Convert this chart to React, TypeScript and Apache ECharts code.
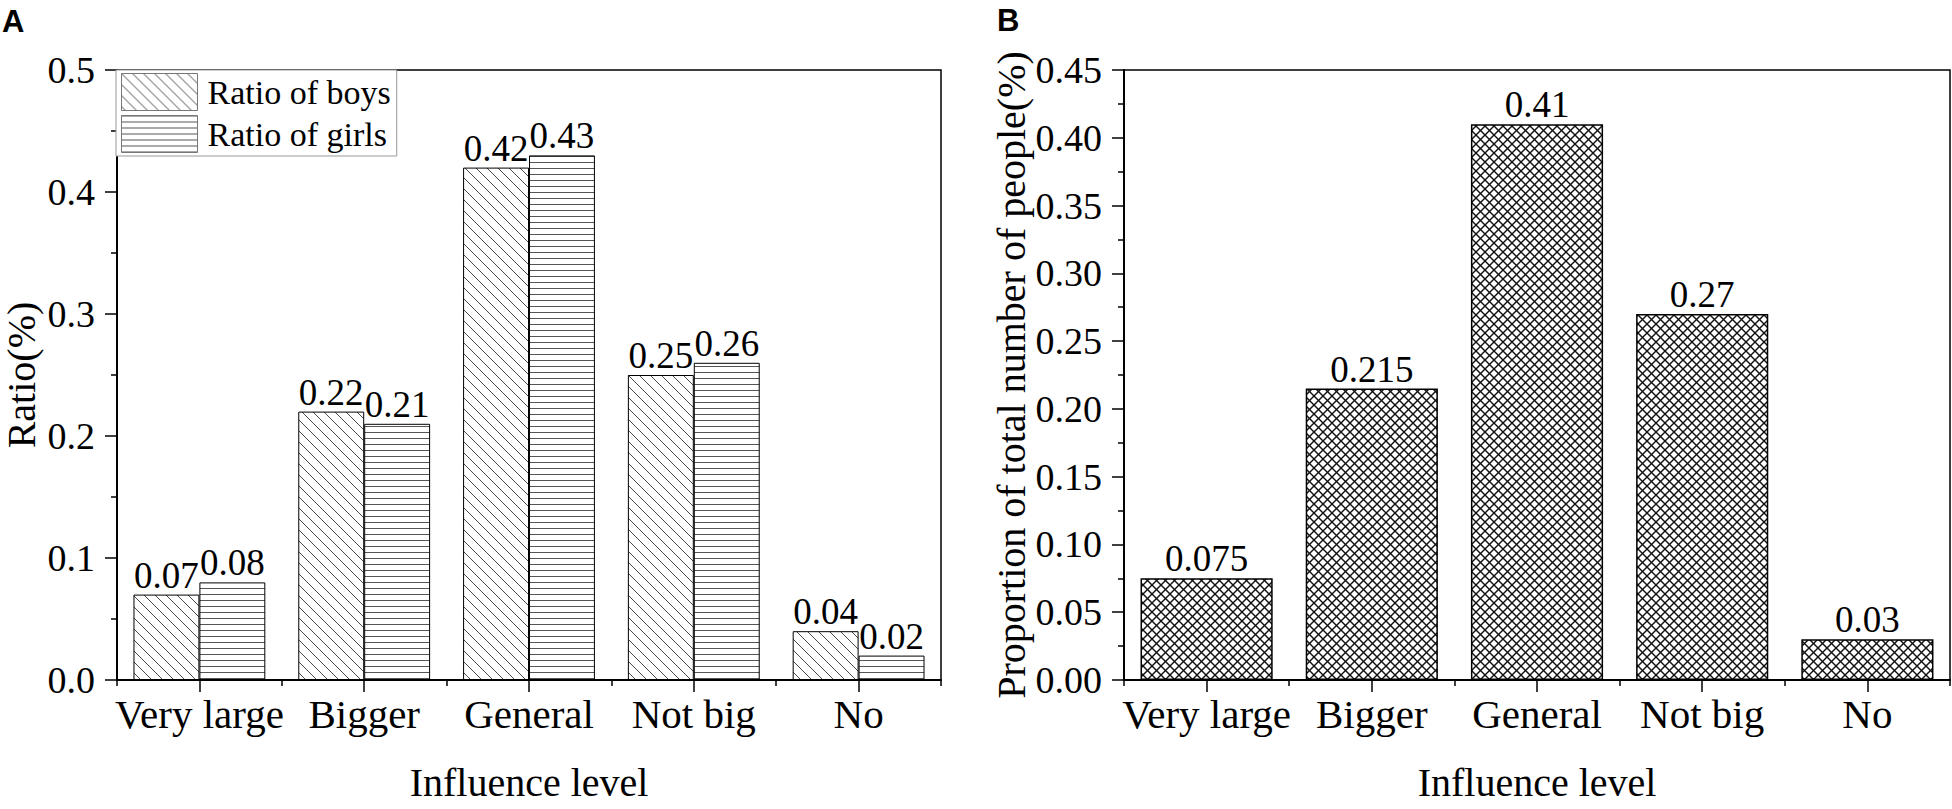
import React, { useEffect, useRef } from "react";
import * as echarts from "echarts";

const categories = ["Very large", "Bigger", "General", "Not big", "No"];
const boys = [0.07, 0.22, 0.42, 0.25, 0.04];
const girls = [0.08, 0.21, 0.43, 0.26, 0.02];
const total = [0.075, 0.215, 0.41, 0.27, 0.03];
const seriesNames = ["Ratio of boys", "Ratio of girls"];

const FONT = "'Liberation Serif', 'Times New Roman', serif";

function makePattern(kind: string): HTMLCanvasElement {
  const c = document.createElement("canvas");
  let s = 11;
  if (kind === "horiz") s = 6;
  if (kind === "cross") s = 9;
  c.width = s;
  c.height = s;
  const ctx = c.getContext("2d")!;
  ctx.fillStyle = "#ffffff";
  ctx.fillRect(0, 0, s, s);
  if (kind === "diag") {
    ctx.strokeStyle = "#4a4a4a";
    ctx.lineWidth = 1;
    for (const k of [-1, 0, 1]) {
      ctx.beginPath();
      ctx.moveTo(-2, -2 + k * s);
      ctx.lineTo(s + 2, s + 2 + k * s);
      ctx.stroke();
    }
  } else if (kind === "horiz") {
    ctx.strokeStyle = "#555555";
    ctx.lineWidth = 1;
    ctx.beginPath();
    ctx.moveTo(0, 0.5);
    ctx.lineTo(s, 0.5);
    ctx.stroke();
  } else {
    ctx.strokeStyle = "#111111";
    ctx.lineWidth = 1.4;
    for (const k of [-1, 0, 1]) {
      ctx.beginPath();
      ctx.moveTo(-2, -2 + k * s);
      ctx.lineTo(s + 2, s + 2 + k * s);
      ctx.stroke();
      ctx.beginPath();
      ctx.moveTo(-2, s + 2 + k * s);
      ctx.lineTo(s + 2, -2 + k * s);
      ctx.stroke();
    }
  }
  return c;
}

export default function App() {
  const ref = useRef<HTMLDivElement>(null);

  useEffect(() => {
    document.body.style.margin = "0";
    if (!ref.current) return;
    const chart = echarts.init(ref.current, undefined, { renderer: "svg" });

    const diag = { image: makePattern("diag"), repeat: "repeat" };
    const horiz = { image: makePattern("horiz"), repeat: "repeat" };
    const cross = { image: makePattern("cross"), repeat: "repeat" };

    const grids = [
      { left: 116, top: 70, width: 825, height: 610 },
      { left: 1124, top: 70, width: 826, height: 610 },
    ];

    const catAxis = (gridIndex: number, main: boolean) => ({
      type: "category",
      gridIndex,
      position: "bottom",
      data: categories,
      name: main ? "Influence level" : "",
      nameLocation: "middle",
      nameGap: 82,
      nameTextStyle: { fontFamily: FONT, fontSize: 40, color: "#000" },
      axisLine: { show: main, lineStyle: { color: "#000", width: 2 } },
      axisTick: main
        ? { show: true, alignWithLabel: false, length: 6, lineStyle: { color: "#000", width: 1.5 } }
        : { show: true, alignWithLabel: true, length: 12, lineStyle: { color: "#000", width: 1.5 } },
      axisLabel: main
        ? { show: true, interval: 0, margin: 13, fontFamily: FONT, fontSize: 41, color: "#000" }
        : { show: false },
      splitLine: { show: false },
      z: main ? 3 : 2,
    });

    const valAxis = (gridIndex: number, max: number, interval: number, digits: number, name: string, nameGap: number) => ({
      type: "value",
      gridIndex,
      min: 0,
      max,
      interval,
      name,
      nameLocation: "middle",
      nameGap,
      nameTextStyle: { fontFamily: FONT, fontSize: 40, color: "#000" },
      axisLine: { show: true, lineStyle: { color: "#000", width: 2 } },
      axisTick: { show: true, inside: false, length: 12, lineStyle: { color: "#000", width: 1.5 } },
      minorTick: { show: true, splitNumber: 2, length: 6, lineStyle: { color: "#000", width: 1.5 } },
      axisLabel: {
        margin: 22,
        fontFamily: FONT,
        fontSize: 38,
        color: "#000",
        formatter: (v: number) => v.toFixed(digits),
      },
      splitLine: { show: false },
    });

    const valueLabel = {
      show: true,
      position: "top",
      distance: 1,
      fontFamily: FONT,
      fontSize: 37,
      color: "#000",
      formatter: (p: any) => String(p.value),
    };

    chart.setOption({
      animation: false,
      backgroundColor: "#fff",
      grid: grids.map((g) => ({ ...g, show: true, borderColor: "#000", borderWidth: 1.5, backgroundColor: "transparent" })),
      legend: {
        data: seriesNames.map((n) => ({ name: n, itemStyle: { borderColor: "#777", borderWidth: 1 } })),
        orient: "vertical",
        left: 116,
        top: 70,
        padding: [3, 6, 3, 5],
        itemGap: 4,
        itemWidth: 76,
        itemHeight: 37,
        icon: "rect",
        backgroundColor: "#fff",
        borderColor: "#999",
        borderWidth: 1,
        textStyle: { fontFamily: FONT, fontSize: 34, color: "#000", padding: [0, 0, 0, 5] },
      },
      xAxis: [catAxis(0, true), catAxis(0, false), catAxis(1, true), catAxis(1, false)],
      yAxis: [
        valAxis(0, 0.5, 0.1, 1, "Ratio(%)", 76),
        valAxis(1, 0.45, 0.05, 2, "Proportion of total number of people(%)", 87),
      ],
      graphic: [
        { type: "text", left: 2, top: 6, style: { text: "A", font: "bold 31px 'Liberation Sans', Arial, sans-serif", fill: "#000" } },
        { type: "text", left: 997, top: 5, style: { text: "B", font: "bold 31px 'Liberation Sans', Arial, sans-serif", fill: "#000" } },
      ],
      series: [
        {
          type: "bar",
          name: seriesNames[0],
          xAxisIndex: 0,
          yAxisIndex: 0,
          data: boys,
          barWidth: "40%",
          barGap: "0%",
          itemStyle: { color: diag, borderColor: "#000", borderWidth: 1 },
          label: valueLabel,
        },
        {
          type: "bar",
          name: seriesNames[1],
          xAxisIndex: 0,
          yAxisIndex: 0,
          data: girls,
          barWidth: "40%",
          barGap: "0%",
          itemStyle: { color: horiz, borderColor: "#000", borderWidth: 1 },
          label: valueLabel,
        },
        {
          type: "bar",
          name: "Total",
          xAxisIndex: 2,
          yAxisIndex: 1,
          data: total,
          barWidth: "80%",
          itemStyle: { color: cross, borderColor: "#000", borderWidth: 1.5 },
          label: valueLabel,
        },
      ],
    });

    return () => chart.dispose();
  }, []);

  return <div ref={ref} style={{ width: 1952, height: 809 }} />;
}
